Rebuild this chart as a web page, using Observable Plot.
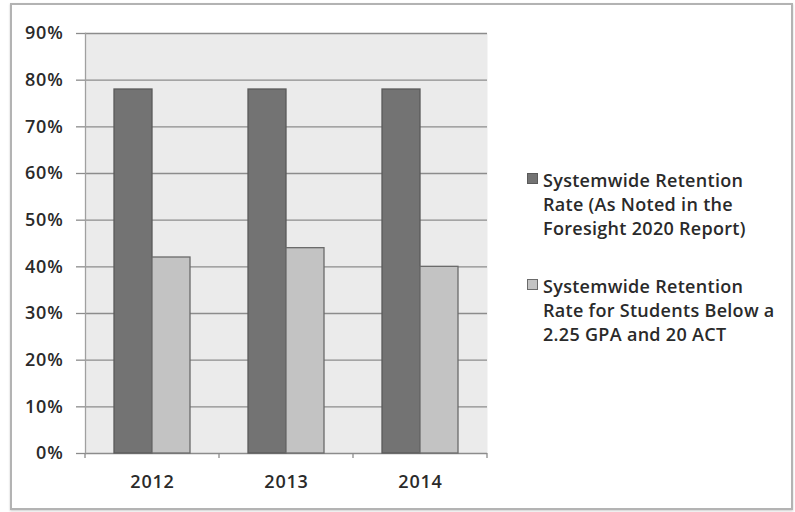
<!DOCTYPE html>
<html><head><meta charset="utf-8">
<script src="https://cdn.jsdelivr.net/npm/d3@7"></script>
<script src="https://cdn.jsdelivr.net/npm/@observablehq/plot@0.6"></script>
<style>
body{margin:0;background:#fff;font-family:"Open Sans",Lato,sans-serif;}
#wrap{position:relative;width:795px;height:512px;overflow:hidden;}
#frame{position:absolute;left:10px;top:3px;width:779px;height:503px;border:2px solid #b3b3b3;box-shadow:0 1px 2px rgba(0,0,0,.2);}
#chart{position:absolute;left:0;top:0;}
#legend{position:absolute;left:527px;top:168px;}
.item{display:flex;align-items:flex-start;margin-bottom:34px;}
.sw{width:9px;height:9px;margin-top:5px;margin-right:5px;flex:none;}
.txt{width:239px;font-size:18px;line-height:24px;color:#2a2a2a;font-weight:600;letter-spacing:0.3px;}
</style>
</head><body>
<div id="wrap"><div id="frame"></div><div id="chart"></div><div id="legend"></div></div>
<script>
const years = ["2012", "2013", "2014"];
const seriesNames = [
  "Systemwide Retention Rate (As Noted in the Foresight 2020 Report)",
  "Systemwide Retention Rate for Students Below a 2.25 GPA and 20 ACT"
];
const systemwideRate = [78, 78, 78];
const belowThresholdRate = [42, 44, 40];
const yTicks = [0, 10, 20, 30, 40, 50, 60, 70, 80, 90];
const seriesColors = ["#737373", "#c3c3c3"];
const seriesStrokes = ["#5a5a5a", "#6a6a6a"];

const data = [];
years.forEach((yr, i) => {
  data.push({year: yr, series: seriesNames[0], value: systemwideRate[i]});
  data.push({year: yr, series: seriesNames[1], value: belowThresholdRate[i]});
});

const chart = Plot.plot({
  width: 795, height: 512,
  marginLeft: 85, marginRight: 308, marginTop: 33, marginBottom: 59,
  style: {fontFamily: "'Open Sans', Lato, sans-serif", fontSize: "18px", letterSpacing: "0.8px", color: "#2a2a2a", background: "transparent"},
  fx: {domain: years, padding: 0, label: null},
  x: {domain: seriesNames, paddingInner: 0, paddingOuter: 0.763, axis: null},
  y: {domain: [0, 90], label: null},
  color: {domain: seriesNames, range: seriesColors},
  marks: [
    Plot.frame({fill: "#ebebeb", facet: "super"}),
    Plot.gridY(yTicks, {stroke: "#8c8c8c", strokeOpacity: 1, strokeWidth: 1.3}),
    Plot.frame({anchor: "left", stroke: "#a0a0a0", strokeWidth: 1.3, facet: "super"}),
    Plot.barY(data, {fx: "year", x: "series", y: "value", fill: "series",
      stroke: d => seriesStrokes[seriesNames.indexOf(d.series)], strokeWidth: 1.3}),
    Plot.axisY(yTicks, {tickFormat: d => d + "%", tickSize: 9, tickPadding: 13, stroke: "#8c8c8c", strokeOpacity: 1, strokeWidth: 1.3, fill: "#2a2a2a", fontWeight: 600, label: null}),
    Plot.axisFx({anchor: "bottom", tickSize: 0, tickPadding: 22, fontWeight: 600, label: null, fill: "#2a2a2a"})
  ]
});
document.getElementById("chart").appendChild(chart);

// category boundary ticks below the baseline, placed with the chart's own scales
const fx = chart.scale("fx"), y = chart.scale("y");
const y0 = y.apply(0);
const bounds = years.map(yr => fx.apply(yr)).concat([fx.apply(years[years.length - 1]) + fx.bandwidth]);
d3.select(chart).append("g").selectAll("line").data(bounds).join("line")
  .attr("x1", d => d).attr("x2", d => d).attr("y1", y0).attr("y2", y0 + 5)
  .attr("stroke", "#8c8c8c").attr("stroke-width", 1.3);

const legend = d3.select("#legend");
seriesNames.forEach((name, i) => {
  const it = legend.append("div").attr("class", "item");
  it.append("div").attr("class", "sw").style("background", seriesColors[i]).style("border", "1px solid " + seriesStrokes[i]);
  it.append("div").attr("class", "txt").text(name);
});
</script>
</body></html>
